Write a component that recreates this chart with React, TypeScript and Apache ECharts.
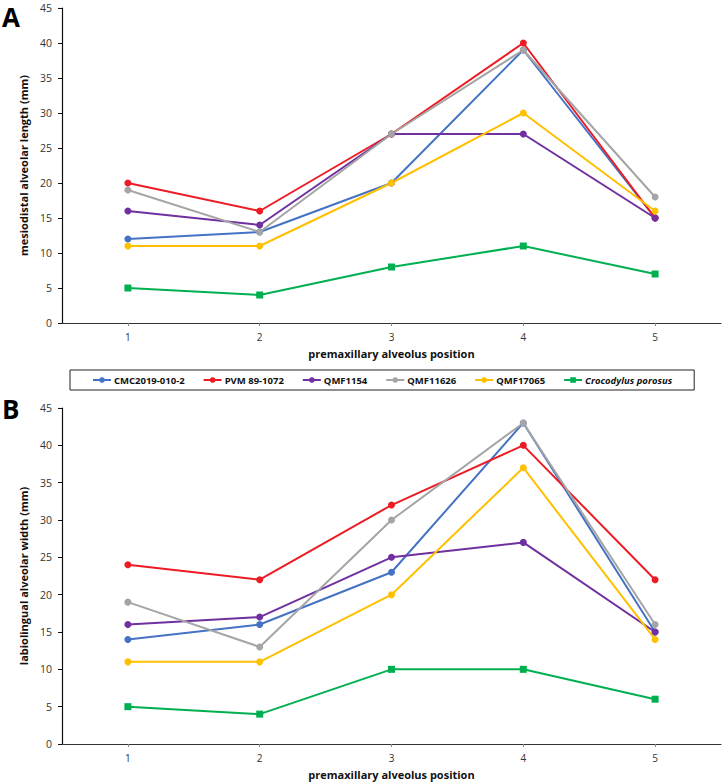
import React, { useEffect, useRef } from "react";
import * as echarts from "echarts";

const categories = ["1", "2", "3", "4", "5"];
const seriesNames = ["CMC2019-010-2", "PVM 89-1072", "QMF1154", "QMF11626", "QMF17065", "Crocodylus porosus"];
const colors = ["#4472C4", "#ED1C24", "#7030A0", "#A5A5A5", "#FFC000", "#00B050"];

// Panel A: mesiodistal alveolar length (mm)
const lengthCMC = [12, 13, 20, 39, 15];
const lengthPVM = [20, 16, 27, 40, 15];
const lengthQMF1154 = [16, 14, 27, 27, 15];
const lengthQMF11626 = [19, 13, 27, 39, 18];
const lengthQMF17065 = [11, 11, 20, 30, 16];
const lengthCroc = [5, 4, 8, 11, 7];

// Panel B: labiolingual alveolar width (mm)
const widthCMC = [14, 16, 23, 43, 15];
const widthPVM = [24, 22, 32, 40, 22];
const widthQMF1154 = [16, 17, 25, 27, 15];
const widthQMF11626 = [19, 13, 30, 43, 16];
const widthQMF17065 = [11, 11, 20, 37, 14];
const widthCroc = [5, 4, 10, 10, 6];

const lengthData = [lengthCMC, lengthPVM, lengthQMF1154, lengthQMF11626, lengthQMF17065, lengthCroc];
const widthData = [widthCMC, widthPVM, widthQMF1154, widthQMF11626, widthQMF17065, widthCroc];

const FONT = "'Open Sans', sans-serif";

export default function App() {
  const ref = useRef<HTMLDivElement>(null);
  useEffect(() => {
    document.body.style.margin = "0";
    if (!ref.current) return;
    const chart = echarts.init(ref.current, null, { renderer: "svg" });

    const xAxisBase = (gridIndex: number) => ({
      type: "category",
      gridIndex,
      data: categories,
      boundaryGap: true,
      name: "premaxillary alveolus position",
      nameLocation: "middle",
      nameGap: 25,
      nameTextStyle: { fontFamily: FONT, fontWeight: "bold", fontSize: 11, color: "#111" },
      axisLine: { lineStyle: { color: "#333", width: 1.2 } },
      axisTick: { show: true, alignWithLabel: true, length: 3, lineStyle: { color: "#888" } },
      axisLabel: { fontFamily: FONT, fontSize: 10, color: "#333", margin: 9 },
    });
    const yAxisBase = (gridIndex: number, name: string) => ({
      type: "value",
      gridIndex,
      min: 0,
      max: 45,
      interval: 5,
      name,
      nameLocation: "middle",
      nameGap: 33,
      nameTextStyle: { fontFamily: FONT, fontWeight: "bold", fontSize: 11, color: "#111" },
      axisLine: { show: true, lineStyle: { color: "#111", width: 1.2 } },
      axisTick: { show: true, length: 4, lineStyle: { color: "#111" } },
      axisLabel: { fontFamily: FONT, fontSize: 10.5, color: "#333", margin: 10 },
      splitLine: { show: false },
    });

    const makeSeries = (data: number[][], idx: number) =>
      data.map((vals, i) => ({
        name: seriesNames[i],
        type: "line",
        xAxisIndex: idx,
        yAxisIndex: idx,
        data: vals,
        symbol: i === 5 ? "rect" : "circle",
        symbolSize: 7,
        itemStyle: { color: colors[i] },
        lineStyle: { color: colors[i], width: 2 },
      }));

    chart.setOption({
      animation: false,
      color: colors,
      grid: [
        { left: 62, right: 1, top: 8, height: 315 },
        { left: 62, right: 1, top: 408, height: 336 },
      ],
      xAxis: [xAxisBase(0), xAxisBase(1)],
      yAxis: [
        yAxisBase(0, "mesiodistal alveolar length (mm)"),
        yAxisBase(1, "labiolingual alveolar width (mm)"),
      ],
      legend: {
        data: seriesNames,
        left: 70,
        top: 370,
        width: 700,
        borderColor: "#222",
        borderWidth: 1,
        borderRadius: 0,
        padding: [5, 22, 5, 22],
        itemGap: 18,
        itemWidth: 18,
        itemHeight: 7,
        textStyle: {
          fontFamily: FONT,
          fontSize: 9.5,
          fontWeight: "bold",
          color: "#111",
          padding: [0, 0, 0, -2],
          rich: { i: { fontStyle: "italic", fontWeight: "bold", fontFamily: FONT, fontSize: 9.5, color: "#111" } },
        },
        formatter: (name: string) => (name === "Crocodylus porosus" ? `{i|${name}}` : name),
      },
      graphic: [
        { type: "text", left: 2, top: 4, style: { text: "A", fontFamily: FONT, fontWeight: "bold", fontSize: 26, fill: "#000" } },
        { type: "text", left: 2, top: 396, style: { text: "B", fontFamily: FONT, fontWeight: "bold", fontSize: 26, fill: "#000" } },
      ],
      series: [...makeSeries(lengthData, 0), ...makeSeries(widthData, 1)],
    });
    return () => chart.dispose();
  }, []);
  return <div ref={ref} style={{ width: 722, height: 784 }} />;
}
